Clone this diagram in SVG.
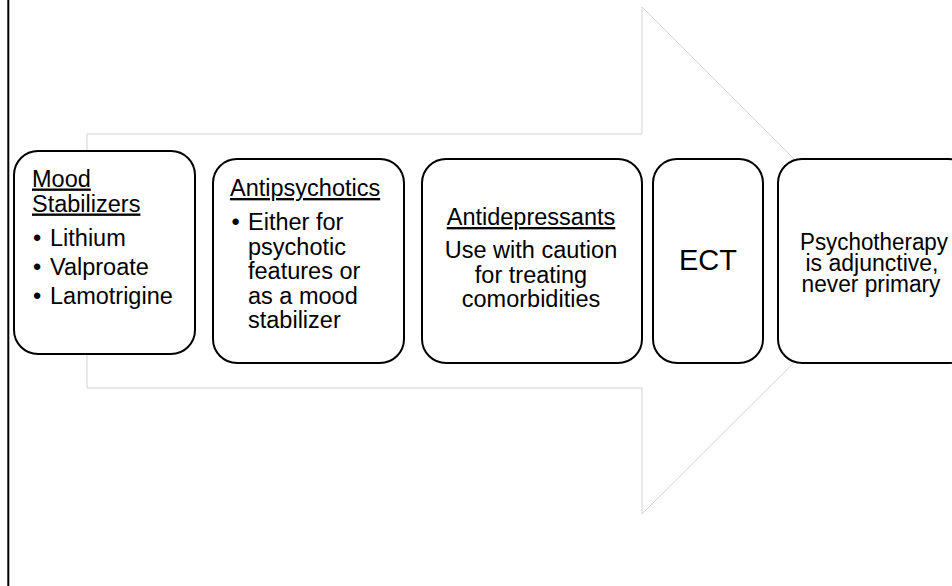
<svg xmlns="http://www.w3.org/2000/svg" width="952" height="586" viewBox="0 0 952 586">
  <style>
    .box { fill: #ffffff; stroke: #000000; stroke-width: 2; }
    .t { font-family: "Liberation Sans", Arial, sans-serif; font-size: 23.5px; fill: #000000; }
    .u { text-decoration: underline; }
    .c { text-anchor: middle; }
    .p { font-size: 23px; }
  </style>
  <rect x="0" y="0" width="952" height="586" fill="#ffffff"/>
  <line x1="8.3" y1="0" x2="8.3" y2="586" stroke="#000000" stroke-width="2"/>
  <g id="connectors">
    <polygon points="87,134 642,134 642,7 896,261 642,514 642,388 87,388" fill="#ffffff" stroke="#d3d3d3" stroke-width="1"/>
  </g>
  <g id="mood-stabilizers">
    <rect class="box" x="14" y="151" width="181" height="203" rx="24" ry="24"/>
    <text class="t u" x="32" y="186.5">Mood</text>
    <text class="t u" x="32" y="211.5">Stabilizers</text>
    <text class="t" x="33" y="245.5">•</text><text class="t" x="50" y="245.5">Lithium</text>
    <text class="t" x="33" y="274.5">•</text><text class="t" x="50" y="274.5">Valproate</text>
    <text class="t" x="33" y="304">•</text><text class="t" x="50" y="304">Lamotrigine</text>
  </g>
  <g id="antipsychotics">
    <rect class="box" x="213" y="159" width="191" height="204" rx="24" ry="24"/>
    <text class="t u" x="230" y="196">Antipsychotics</text>
    <text class="t" x="231.5" y="230">•</text>
    <text class="t" x="248" y="230">Either for</text>
    <text class="t" x="248" y="254.5">psychotic</text>
    <text class="t" x="248" y="279">features or</text>
    <text class="t" x="248" y="303.5">as a mood</text>
    <text class="t" x="248" y="328">stabilizer</text>
  </g>
  <g id="antidepressants">
    <rect class="box" x="422" y="159" width="220" height="204" rx="24" ry="24"/>
    <text class="t u c" x="531" y="225">Antidepressants</text>
    <text class="t c" x="531" y="258">Use with caution</text>
    <text class="t c" x="531" y="282.5">for treating</text>
    <text class="t c" x="531" y="307">comorbidities</text>
  </g>
  <g id="ect">
    <rect class="box" x="653" y="159" width="110" height="204" rx="24" ry="24"/>
    <text class="t c" x="708" y="270" style="font-size:29px">ECT</text>
  </g>
  <g id="psychotherapy">
    <rect class="box" x="778" y="159" width="194" height="204" rx="24" ry="24"/>
    <text class="t c p" x="874" y="250" textLength="148" lengthAdjust="spacingAndGlyphs">Psychotherapy</text>
    <text class="t c p" x="872" y="270.5" textLength="133" lengthAdjust="spacingAndGlyphs">is adjunctive,</text>
    <text class="t c p" x="871" y="291.5" textLength="139" lengthAdjust="spacingAndGlyphs">never primary</text>
  </g>
</svg>
